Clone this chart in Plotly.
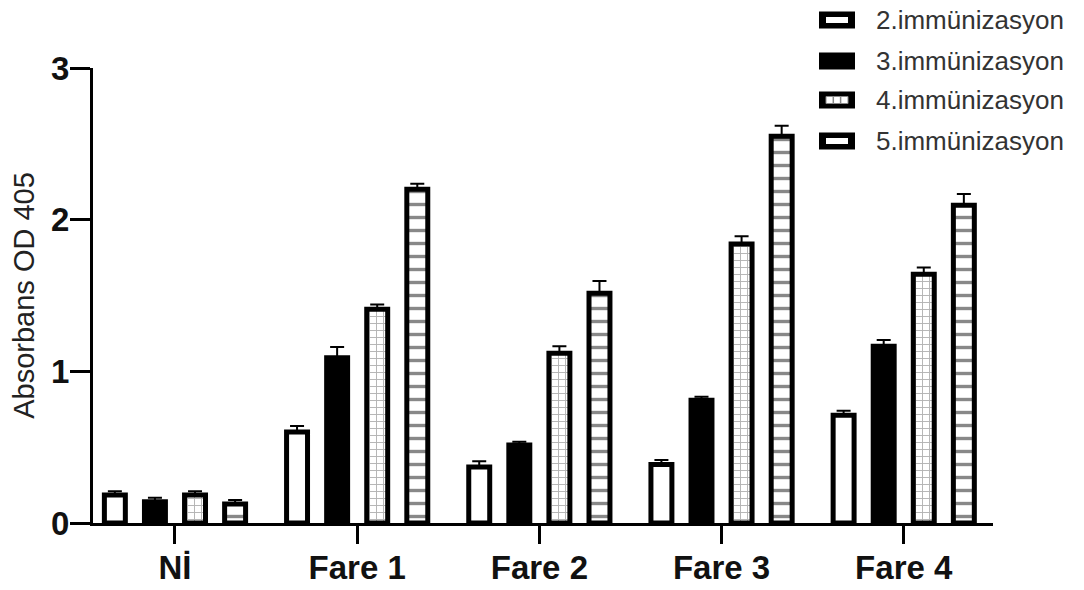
import plotly.graph_objects as go

# Groups (mice) on the x axis
groups = ["Nİ", "Fare 1", "Fare 2", "Fare 3", "Fare 4"]
series_names = ["2.immünizasyon", "3.immünizasyon", "4.immünizasyon", "5.immünizasyon"]

# Mean absorbance (OD 405) per immunization
imm2 = [0.185, 0.60, 0.37, 0.385, 0.71]
imm3 = [0.14, 1.09, 0.515, 0.81, 1.165]
imm4 = [0.185, 1.41, 1.12, 1.84, 1.64]
imm5 = [0.125, 2.20, 1.515, 2.55, 2.095]

# Upper error (SD) per immunization
err2 = [0.025, 0.04, 0.037, 0.03, 0.03]
err3 = [0.027, 0.07, 0.021, 0.023, 0.041]
err4 = [0.025, 0.03, 0.045, 0.05, 0.045]
err5 = [0.027, 0.037, 0.08, 0.07, 0.074]

y_ticks = [0, 1, 2, 3]

# Figure geometry (px)
W, H = 1084, 590
L, R, T, B = 93, 91, 68, 67
PW, PH = W - L - R, H - T - B

FONT = "Liberation Sans, Arial, sans-serif"
LW = 5

def xp(px):
    return (px - L) / PW

def yp(py):
    return (H - B - py) / PH

fig = go.Figure()

styles = [
    dict(color="white", line=dict(color="black", width=LW)),
    dict(color="black", line=dict(color="black", width=LW)),
    dict(color="white", line=dict(color="black", width=LW),
         pattern=dict(shape="+", fgcolor="#666666", bgcolor="white", size=7, solidity=0.25)),
    dict(color="white", line=dict(color="black", width=LW),
         pattern=dict(shape="-", fgcolor="#111111", bgcolor="white", size=13, solidity=0.26)),
]

for name, vals, errs, st in zip(series_names, [imm2, imm3, imm4, imm5],
                                [err2, err3, err4, err5], styles):
    fig.add_trace(go.Bar(
        x=groups, y=vals, name=name, marker=st,
        error_y=dict(type="data", array=errs, arrayminus=[0] * len(errs),
                     symmetric=False, color="black", thickness=2, width=7),
        showlegend=False,
    ))

# Legend drawn as swatches + labels to the upper right
shapes = []
annotations = []
legend_y = [20, 61, 100, 141]
for i, (name, ly) in enumerate(zip(series_names, legend_y)):
    shapes.append(dict(type="rect", xref="paper", yref="paper",
                       x0=xp(819), x1=xp(855), y0=yp(ly + 8.5), y1=yp(ly - 8.5),
                       fillcolor="black", line=dict(width=0), layer="above"))
    if i in (0, 3):
        shapes.append(dict(type="rect", xref="paper", yref="paper",
                           x0=xp(826), x1=xp(848), y0=yp(ly + 3), y1=yp(ly - 3),
                           fillcolor="white", line=dict(width=0), layer="above"))
    elif i == 2:
        shapes.append(dict(type="rect", xref="paper", yref="paper",
                           x0=xp(826), x1=xp(848), y0=yp(ly + 3.5), y1=yp(ly - 3.5),
                           fillcolor="white", line=dict(color="#888888", width=1), layer="above"))
        for vx in (833.3, 840.6):
            shapes.append(dict(type="line", xref="paper", yref="paper",
                               x0=xp(vx), x1=xp(vx), y0=yp(ly + 3.5), y1=yp(ly - 3.5),
                               line=dict(color="#888888", width=1.5), layer="above"))
    annotations.append(dict(xref="paper", yref="paper", x=xp(874), y=yp(ly),
                            xanchor="left", yanchor="middle", showarrow=False,
                            text=name, font=dict(family=FONT, size=26, color="#333333")))

fig.update_layout(
    width=W, height=H,
    margin=dict(l=L, r=R, t=T, b=B, pad=0),
    paper_bgcolor="white", plot_bgcolor="white",
    barmode="group", bargap=0.12, bargroupgap=0.477,
    shapes=shapes, annotations=annotations,
    showlegend=False,
    xaxis=dict(
        type="category", range=[-0.45, 4.49], automargin=False,
        showline=True, linecolor="black", linewidth=3,
        ticks="outside", ticklen=18, tickwidth=3, tickcolor="black",
        ticklabelstandoff=-5,
        tickfont=dict(family=FONT, size=33, color="#111111", weight="bold"),
        showgrid=False, zeroline=False,
    ),
    yaxis=dict(
        range=[0, 3], tickvals=y_ticks, automargin=False,
        showline=True, linecolor="black", linewidth=3,
        ticks="outside", ticklen=20, tickwidth=3, tickcolor="black",
        ticklabelstandoff=-6,
        tickfont=dict(family=FONT, size=33, color="#111111", weight="bold"),
        showgrid=False, zeroline=False,
        title=dict(text="Absorbans OD 405", standoff=8,
                   font=dict(family=FONT, size=29, color="#222222")),
    ),
)

fig.write_html("out.html")
